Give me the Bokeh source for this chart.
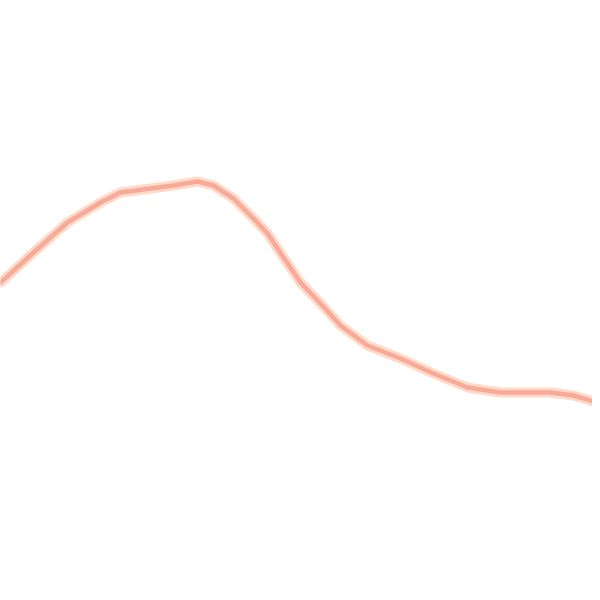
from bokeh.plotting import figure
from bokeh.models import Range1d
from bokeh.embed import file_html
from bokeh.resources import INLINE

x_vals = [0, 33, 67, 100, 120, 150, 173, 197, 213, 233, 253, 267, 283, 300,
          320, 340, 367, 400, 433, 467, 500, 550, 573, 600]
y_vals = [318, 348, 378, 398, 408, 412, 415, 419, 415, 402, 382, 367, 343, 318,
          297, 275, 255, 242, 227, 213, 208, 208, 205, 197]

p = figure(width=592, height=592, output_backend="svg", toolbar_location=None,
           x_range=Range1d(0, 592), y_range=Range1d(8, 600),
           min_border=0, min_border_left=0, min_border_right=0,
           min_border_top=0, min_border_bottom=0)
p.axis.visible = False
p.grid.visible = False
p.outline_line_color = None
p.background_fill_color = "white"
p.border_fill_color = "white"

p.line(x_vals, y_vals, line_color="#FDDBC7", line_width=10, line_join="round", line_cap="round")
p.line(x_vals, y_vals, line_color="#F9A999", line_width=4.5, line_join="round", line_cap="round")

open("out.html", "w").write(file_html(p, INLINE))
